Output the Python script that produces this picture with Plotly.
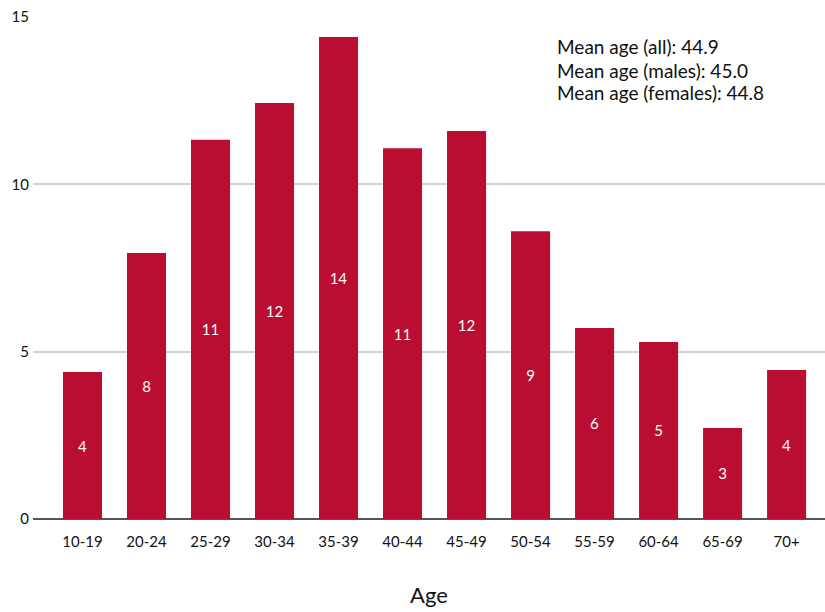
import plotly.graph_objects as go

# Age groups and share of respondents in each
age_groups = ["10-19", "20-24", "25-29", "30-34", "35-39", "40-44",
              "45-49", "50-54", "55-59", "60-64", "65-69", "70+"]
shares = [4.39, 7.95, 11.33, 12.43, 14.4, 11.08, 11.59, 8.6, 5.71, 5.29, 2.72, 4.45]

y_ticks = [0, 5, 10, 15]
mean_lines = ["Mean age (all): 44.9",
              "Mean age (males): 45.0",
              "Mean age (females): 44.8"]

FONT = "Lato, 'Open Sans', sans-serif"
BAR_RED = "#b90e31"

fig = go.Figure(
    go.Bar(
        x=list(range(len(age_groups))),
        y=shares,
        marker=dict(color=BAR_RED, line=dict(width=0)),
        texttemplate="%{y:.0f}",
        textposition="inside",
        insidetextanchor="middle",
        textfont=dict(color="white", size=15, family=FONT),
        textangle=0,
    )
)

# Summary text block in the upper right, one annotation per line
PLOT_TOP, PLOT_H = 17, 502
notes = []
for i, line in enumerate(mean_lines):
    py = 47 + 23 * i
    notes.append(dict(
        x=0.659, y=(PLOT_TOP + PLOT_H - py) / PLOT_H,
        xref="paper", yref="paper",
        xanchor="left", yanchor="middle", align="left",
        showarrow=False, text=line,
        font=dict(size=19, color="#111", family=FONT),
    ))

fig.update_layout(
    width=825,
    height=612,
    margin=dict(l=33, r=0, t=PLOT_TOP, b=93),
    paper_bgcolor="white",
    plot_bgcolor="white",
    bargap=0.39,
    showlegend=False,
    font=dict(family=FONT, color="#111", size=15),
    xaxis=dict(
        tickmode="array",
        tickvals=list(range(len(age_groups))),
        ticktext=age_groups,
        range=[-0.773, 11.6],
        showgrid=False,
        showline=False,
        zeroline=False,
        ticks="",
        ticklabelstandoff=12,
        tickfont=dict(size=15, color="#111"),
        title=dict(text="Age", font=dict(size=22, color="#111"), standoff=38),
    ),
    yaxis=dict(
        range=[0, 15],
        tickvals=y_ticks,
        showgrid=True,
        gridcolor="#d2d2d0",
        gridwidth=2,
        zeroline=True,
        zerolinecolor="#555",
        zerolinewidth=2,
        ticks="",
        ticklabelstandoff=3,
        tickfont=dict(size=15, color="#111"),
    ),
    annotations=notes,
)

fig.write_html("out.html")
